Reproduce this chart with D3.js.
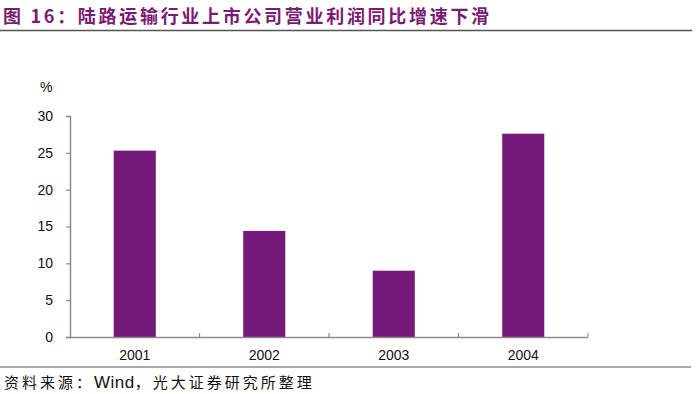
<html>
<head>
<meta charset="utf-8">
<script src="https://cdnjs.cloudflare.com/ajax/libs/d3/7.8.5/d3.min.js"></script>
<style>
  body { margin: 0; background: #fff; }
  text { font-family: "Liberation Sans", Arial, sans-serif; }
</style>
</head>
<body>
<div id="chartContainer"></div>
<script>
  // data
  var years = ["2001", "2002", "2003", "2004"];
  var growth = [25.3, 14.4, 9.0, 27.6];
  var yTicks = [0, 5, 10, 15, 20, 25, 30];

  var titleText = "图 16：陆路运输行业上市公司营业利润同比增速下滑";
  var sourceParts = ["资料来源：", "Wind", "，光大证券研究所整理"];

  var svg = d3.select("#chartContainer").append("svg")
    .attr("width", 700)
    .attr("height", 394);

  // title and rules
  svg.append("text")
    .attr("x", 3)
    .attr("y", 23)
    .style("font-family", "'Noto Sans CJK SC', sans-serif")
    .style("font-size", "18px")
    .style("letter-spacing", "2.7px")
    .style("font-weight", "bold")
    .style("fill", "#7b1b72")
    .text(titleText);

  svg.append("line")
    .attr("x1", 0).attr("x2", 692)
    .attr("y1", 30.5).attr("y2", 30.5)
    .style("stroke", "#555")
    .style("stroke-width", 1.5);

  svg.append("line")
    .attr("x1", 0).attr("x2", 691)
    .attr("y1", 367).attr("y2", 367)
    .style("stroke", "#555")
    .style("stroke-width", 1.2);

  // source line: CJK spaced out, "Wind" in plain sans
  var src = svg.append("text")
    .attr("x", 4)
    .attr("y", 388)
    .style("font-size", "15px")
    .style("fill", "#111");
  src.selectAll("tspan")
    .data(sourceParts)
    .enter()
    .append("tspan")
      .style("font-family", function (d, i) { return i === 1 ? "'Liberation Sans', Arial, sans-serif" : "'Noto Sans CJK SC', sans-serif"; })
      .style("font-size", function (d, i) { return i === 1 ? "17px" : "15px"; })
      .style("letter-spacing", function (d, i) { return i === 1 ? "0.5px" : "3px"; })
      .text(function (d) { return d; });

  // plot area
  var plotLeft = 70, plotRight = 588, plotTop = 116, plotBottom = 337;

  var x = d3.scaleBand()
    .domain(years)
    .range([plotLeft, plotRight])
    .paddingInner(0.675)
    .paddingOuter(0.3375);

  var y = d3.scaleLinear()
    .domain([0, 30])
    .range([plotBottom, plotTop]);

  // bars
  svg.selectAll("rect.bar")
    .data(growth)
    .enter()
    .append("rect")
      .attr("class", "bar")
      .attr("x", function (d, i) { return x(years[i]); })
      .attr("y", function (d) { return y(d); })
      .attr("width", x.bandwidth())
      .attr("height", function (d) { return plotBottom - y(d); })
      .style("fill", "#751a78");

  // y axis
  var yAxis = d3.axisLeft(y)
    .tickValues(yTicks)
    .tickSize(4)
    .tickPadding(13);

  var gy = svg.append("g")
    .attr("transform", "translate(" + plotLeft + ",0)")
    .call(yAxis);
  gy.select(".domain").style("stroke", "#8c8c8c").style("stroke-width", 1.5);
  gy.selectAll(".tick line").style("stroke", "#8c8c8c").style("stroke-width", 1.2);
  gy.selectAll(".tick text")
    .style("font-size", "14px")
    .style("fill", "#111");

  // x axis: ticks sit between categories, like the original
  var bounds = d3.range(years.length + 1).map(function (i) {
    return plotLeft + i * (plotRight - plotLeft) / years.length;
  });

  svg.append("line")
    .attr("x1", plotLeft).attr("x2", plotRight)
    .attr("y1", plotBottom + 0.5).attr("y2", plotBottom + 0.5)
    .style("stroke", "#8c8c8c")
    .style("stroke-width", 1.5);

  svg.selectAll("line.xtick")
    .data(bounds.slice(1))
    .enter()
    .append("line")
      .attr("class", "xtick")
      .attr("x1", function (d) { return d; })
      .attr("x2", function (d) { return d; })
      .attr("y1", plotBottom - 4)
      .attr("y2", plotBottom)
      .style("stroke", "#8c8c8c")
      .style("stroke-width", 1.2);

  svg.selectAll("text.xlab")
    .data(years)
    .enter()
    .append("text")
      .attr("class", "xlab")
      .attr("x", function (d) { return x(d) + x.bandwidth() / 2; })
      .attr("y", 360)
      .attr("text-anchor", "middle")
      .style("font-size", "14px")
      .style("fill", "#111")
      .text(function (d) { return d; });

  // unit label
  svg.append("text")
    .attr("x", 40)
    .attr("y", 92)
    .style("font-size", "14px")
    .style("fill", "#111")
    .text("%");
</script>
</body>
</html>
